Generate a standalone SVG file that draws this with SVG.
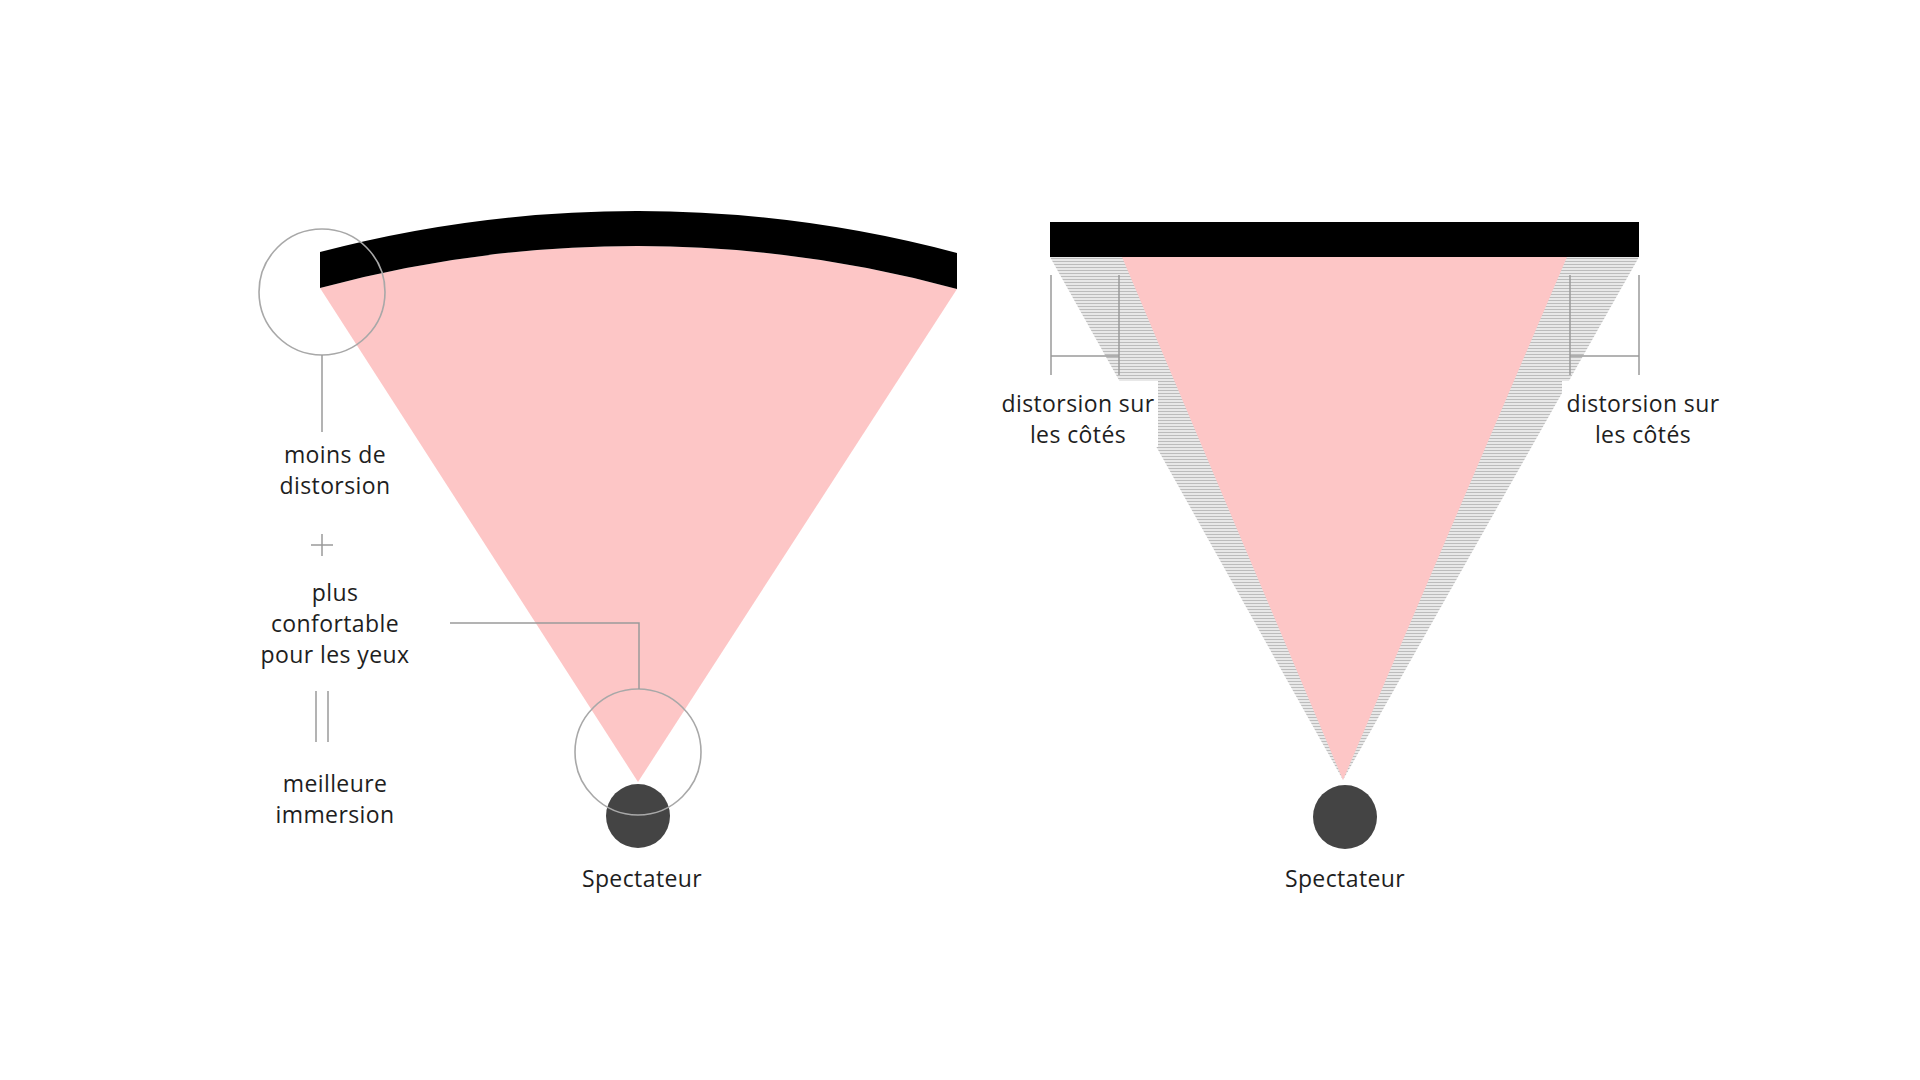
<svg xmlns="http://www.w3.org/2000/svg" width="1920" height="1080" viewBox="0 0 1920 1080">
<defs>
<pattern id="hatch" width="8" height="3" patternUnits="userSpaceOnUse">
<rect width="8" height="3" fill="#e8e8e8"/>
<rect y="0" width="8" height="1" fill="#bcbcbc"/>
</pattern>
<style>
.lbl{font-family:"Open Sans","Liberation Sans",sans-serif;font-size:23px;letter-spacing:0.4px;fill:#1e1e1e;text-anchor:middle}
.ln{stroke:#9a9a9a;stroke-width:1.5;fill:none}
.ring{stroke:#a8a8a8;stroke-width:1.6;fill:none}
.pink{fill:#fdc6c6}
.viewer{fill:#444444}
</style>
</defs>
<rect width="1920" height="1080" fill="#ffffff"/>

<g id="curved-view">
<path class="pink" d="M320,288 A1215,1215 0 0 1 957,289 L638,782 Z"/>
</g>
<g id="curved-screen">
<path d="M320,252 A1243,1243 0 0 1 957,253 L957,289 A1215,1215 0 0 0 320,288 Z" fill="#000"/>
</g>
<g id="viewer-left">
<circle class="viewer" cx="638" cy="816" r="32"/>
<text class="lbl" x="642" y="887">Spectateur</text>
</g>
<g id="zoom-edge">
<circle class="ring" cx="322" cy="292" r="63"/>
</g>
<g id="zoom-viewer">
<circle class="ring" cx="638" cy="752" r="63"/>
</g>
<g id="label-moins">
<text class="lbl" x="335" y="463">moins de</text>
<text class="lbl" x="335" y="494">distorsion</text>
</g>
<g id="plus-sign">
<path class="ln" d="M322,534 V556 M311,545 H333"/>
</g>
<g id="label-confort">
<text class="lbl" x="335" y="601">plus</text>
<text class="lbl" x="335" y="632">confortable</text>
<text class="lbl" x="335" y="663">pour les yeux</text>
</g>
<g id="equals-sign">
<path class="ln" d="M316,691 V742 M328,691 V742"/>
</g>
<g id="label-immersion">
<text class="lbl" x="335" y="792">meilleure</text>
<text class="lbl" x="335" y="823">immersion</text>
</g>

<g id="flat-distortion">
<path fill="url(#hatch)" d="M1050,257 L1639,257 L1343,780 Z"/>
</g>
<g id="flat-view">
<path class="pink" d="M1122,257 L1567,257 L1343,780 Z"/>
</g>
<g id="flat-screen">
<rect x="1050" y="222" width="589" height="35" fill="#000"/>
</g>
<g id="viewer-right">
<circle class="viewer" cx="1345" cy="817" r="32"/>
<text class="lbl" x="1345" y="887">Spectateur</text>
</g>
<g id="label-left-side">
<rect x="990" y="381" width="168" height="66" fill="#fff"/>
<text class="lbl" x="1078" y="412">distorsion sur</text>
<text class="lbl" x="1078" y="443">les côtés</text>
</g>
<g id="label-right-side">
<rect x="1562" y="381" width="168" height="66" fill="#fff"/>
<text class="lbl" x="1643" y="412">distorsion sur</text>
<text class="lbl" x="1643" y="443">les côtés</text>
</g>

<g id="connectors">
<path class="ln" d="M322,355 V432"/>
<path class="ln" d="M450,623 H639 V689"/>
<path class="ln" d="M1051,275 V375 M1119,275 V375 M1051,356 H1119"/>
<path class="ln" d="M1570,275 V375 M1639,275 V375 M1570,356 H1639"/>
</g>
</svg>
